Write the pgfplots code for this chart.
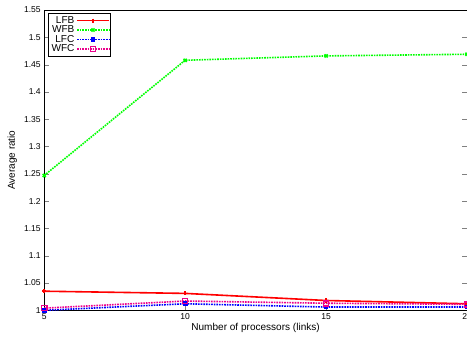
\documentclass[border=0pt]{standalone}
\usepackage{pgfplots}
\pgfplotsset{compat=1.18}
\pgfplotsset{legend image code/.code={\draw[mark repeat=2,mark phase=2,#1] plot coordinates {(0cm,0cm) (0.55cm,0cm) (1.1cm,0cm)};}}
\usepackage{fontspec}
\setmainfont{Liberation Sans}
\begin{document}
\begin{tikzpicture}[trim axis right]
\begin{axis}[
  width=421pt, height=299pt, scale only axis,
  xmin=5, xmax=20, ymin=1, ymax=1.55,
  xtick={5,10,15,20},
  ytick={1,1.05,...,1.55},
  yticklabel style={/pgf/number format/.cd,fixed,precision=2},
  /pgf/number format/assume math mode=true,
  tick align=inside,
  tick pos=both,
  xtick pos=bottom,
  major tick length=4.5pt,
  ticklabel style={font=\fontsize{8.5}{9}\selectfont},
  xlabel={Number of processors (links)},
  ylabel={Average ratio},
  label style={font=\fontsize{10}{11}\selectfont},
  xlabel style={yshift=4pt},
  ylabel style={at={(axis description cs:-0.0641,0.5)}, anchor=south, inner sep=0pt},
  axis line style={line width=0.8pt},
  legend plot pos=right,
  legend cell align=right,
  legend style={font=\fontsize{10}{11}\selectfont, draw=black, line width=0.6pt, inner sep=1pt, row sep=-3pt, at={(axis description cs:0,1)}, xshift=4pt, yshift=-3pt, anchor=north west},
]
\addplot[red, line width=1.6pt, mark=+, mark size=2pt] coordinates {(5,1.035) (10,1.031) (15,1.018) (20,1.012)};
\addlegendentry{LFB}
\addplot[green, line width=1.6pt, densely dotted, mark=x, mark size=2.2pt, mark options={solid}] coordinates {(5,1.247) (10,1.458) (15,1.466) (20,1.469)};
\addlegendentry{WFB}
\addplot[blue, line width=1.6pt, densely dotted, mark=square*, mark size=1.6pt, mark options={solid}] coordinates {(5,1.000) (10,1.012) (15,1.006) (20,1.006)};
\addlegendentry{LFC}
\addplot[magenta, line width=1.6pt, densely dotted, mark=square, mark size=2.5pt, mark options={solid}] coordinates {(5,1.004) (10,1.017) (15,1.013) (20,1.011)};
\addlegendentry{WFC}
\end{axis}
\path ([yshift=10pt,xshift=-44pt]current axis.north west) ([yshift=-26pt]current axis.south west);
\end{tikzpicture}
\end{document}
